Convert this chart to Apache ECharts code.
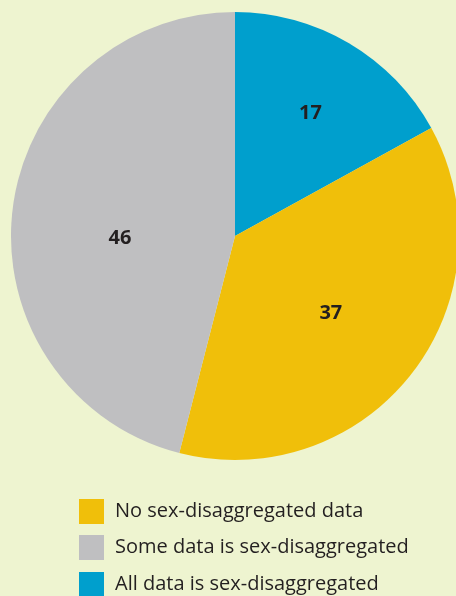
<!DOCTYPE html>
<html><head><meta charset="utf-8">
<script src="https://cdn.jsdelivr.net/npm/echarts@6/dist/echarts.min.js"></script>
<style>html,body{margin:0;padding:0;background:#eef4d0;}#c{width:456px;height:596px;}</style>
</head><body><div id="c"></div>
<script>
const categories = ["All data is sex-disaggregated", "No sex-disaggregated data", "Some data is sex-disaggregated"];
const values = [17, 37, 46];
const colors = ["#009fcd", "#f0bf0a", "#bfbfc1"];
const legendOrder = ["No sex-disaggregated data", "Some data is sex-disaggregated", "All data is sex-disaggregated"];
const labelOffsets = [[17, -24], [5, 7], [-1, 17]];
const legendTops = [499, 535, 572];

const chart = echarts.init(document.getElementById('c'));
chart.setOption({
  backgroundColor: '#eef4d0',
  animation: false,
  legend: legendOrder.map((n, i) => ({
    data: [n],
    orient: 'vertical',
    left: 79, top: legendTops[i],
    padding: 0,
    itemWidth: 25, itemHeight: 25,
    icon: 'rect',
    selectedMode: false,
    textStyle: { fontFamily: 'Open Sans', fontSize: 20, color: '#231f20', padding: [0,0,0,6] }
  })),
  series: [{
    type: 'pie',
    center: [235, 236],
    radius: [0, 224],
    startAngle: 90,
    clockwise: true,
    avoidLabelOverlap: false,
    label: {
      position: 'inside',
      formatter: '{c}',
      fontFamily: 'Open Sans', fontWeight: 'bold', fontSize: 20, color: '#231f20'
    },
    labelLine: { show: false },
    itemStyle: { borderWidth: 0 },
    emphasis: { disabled: true },
    data: categories.map((n, i) => ({
      name: n, value: values[i],
      itemStyle: { color: colors[i] },
      label: { offset: labelOffsets[i] }
    }))
  }]
});
</script></body></html>
